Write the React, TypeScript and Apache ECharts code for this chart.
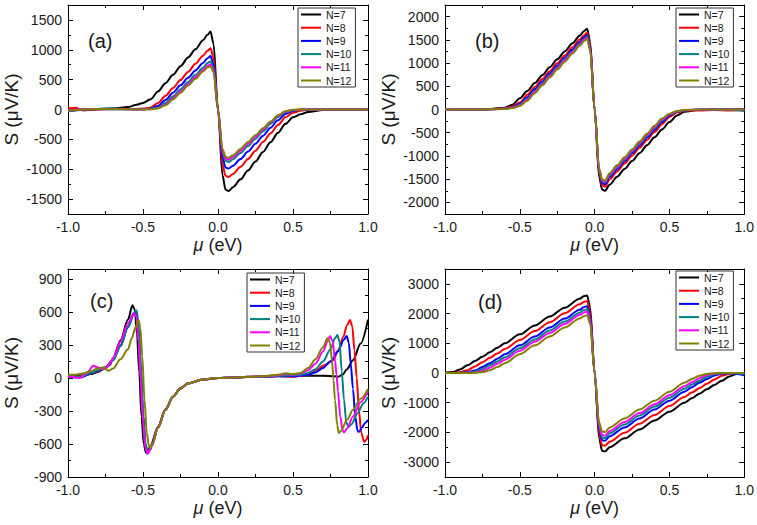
import React, { useEffect, useRef } from 'react';
import * as echarts from 'echarts';

const FONT = '"Liberation Sans", Arial, sans-serif';
const NAMES = ['N=7', 'N=8', 'N=9', 'N=10', 'N=11', 'N=12'];
const COLORS = ['#000000', '#ff0000', '#0000ff', '#008080', '#ff00ff', '#808000'];

// x grid shared by panels (a) and (b)
const xAB = [-1.0, -0.95, -0.9, -0.8, -0.7, -0.6, -0.55, -0.5, -0.45, -0.4, -0.35, -0.3, -0.25, -0.2, -0.15, -0.1, -0.07, -0.05, -0.03, 0, 0.03, 0.05, 0.07, 0.1, 0.15, 0.2, 0.25, 0.3, 0.35, 0.4, 0.45, 0.5, 0.55, 0.6, 0.7, 0.8, 0.9, 1.0];

// panel (a)
const a7 = [0, 5, -5, 10, 15, 40, 75, 110, 170, 300, 440, 580, 725, 870, 1010, 1160, 1250, 1305, 1100, 0, -1100, -1340, -1365, -1300, -1170, -1020, -870, -710, -550, -390, -240, -130, -80, -40, -8, 0, 0, 0];
const a8 = [20, 30, -15, 0, 10, 10, 10, 15, 30, 110, 230, 360, 495, 630, 765, 900, 985, 1025, 870, 0, -920, -1110, -1130, -1080, -960, -830, -690, -545, -400, -260, -130, -55, -20, -5, 0, 0, 0, 0];
const a9 = [-30, -15, 0, 5, 5, 5, 5, 5, 15, 60, 160, 280, 405, 530, 655, 780, 860, 895, 760, 0, -800, -970, -990, -940, -830, -705, -575, -440, -305, -180, -75, -25, -5, 0, 0, 0, 0, 0];
const a10 = [-20, -10, 0, 10, 20, 5, 5, 5, 10, 35, 110, 220, 340, 460, 580, 700, 780, 805, 690, 0, -720, -860, -880, -835, -730, -610, -490, -365, -240, -125, -45, -12, -2, 0, 0, 0, 0, 0];
const a11 = [-25, 0, 5, 10, 10, 5, 0, 0, 5, 25, 85, 190, 305, 425, 545, 660, 735, 755, 650, 0, -690, -820, -840, -795, -690, -575, -455, -335, -215, -105, -35, -8, 0, 0, 0, 0, 0, 0];
const a12 = [-20, -10, 0, 10, 5, 5, 0, 0, 5, 20, 70, 170, 280, 400, 515, 635, 705, 725, 625, 0, -660, -790, -810, -765, -660, -545, -430, -315, -200, -95, -30, -5, 0, 0, 0, 0, 0, 0];

// panel (b)
const b7 = [0, 0, 0, 0, 10, 40, 100, 240, 400, 570, 740, 910, 1080, 1250, 1420, 1590, 1690, 1740, 1450, 0, -1450, -1720, -1750, -1620, -1450, -1280, -1110, -940, -770, -600, -430, -270, -130, -50, -5, 0, 0, 0];
const b8 = [0, 0, 0, 0, 5, 25, 65, 150, 315, 485, 655, 825, 995, 1165, 1335, 1505, 1600, 1650, 1380, 0, -1380, -1630, -1660, -1505, -1335, -1165, -995, -825, -655, -485, -315, -160, -65, -25, -20, -10, -20, 0];
const b9 = [0, 0, 0, 0, 5, 20, 45, 120, 264, 434, 604, 774, 944, 1114, 1284, 1454, 1555, 1600, 1340, 0, -1340, -1580, -1610, -1454, -1284, -1114, -944, -774, -604, -434, -270, -130, -50, -20, -5, 0, 0, 0];
const b10 = [0, 0, 0, 0, 5, 15, 40, 95, 230, 400, 570, 740, 910, 1080, 1250, 1420, 1520, 1565, 1310, 0, -1310, -1545, -1570, -1420, -1250, -1080, -910, -740, -570, -400, -235, -110, -45, -15, -5, 0, -10, -30];
const b11 = [0, 0, 0, 0, 5, 15, 35, 85, 210, 376, 546, 716, 886, 1056, 1226, 1396, 1500, 1545, 1290, 0, -1290, -1525, -1550, -1396, -1226, -1056, -886, -716, -546, -376, -215, -100, -40, -12, 0, 0, 0, 0];
const b12 = [0, 0, 0, 0, 5, 10, 30, 75, 190, 350, 520, 690, 860, 1030, 1200, 1370, 1475, 1525, 1270, 0, -1270, -1505, -1530, -1370, -1200, -1030, -860, -690, -520, -350, -195, -90, -35, -10, 0, 0, 0, 0];

// panel (c): [mu, S] pairs per series
const c7 = [[-1, 25], [-0.95, 20], [-0.9, 25], [-0.85, 35], [-0.8, 55], [-0.75, 90], [-0.72, 120], [-0.7, 180], [-0.65, 340], [-0.6, 530], [-0.57, 660], [-0.555, 620], [-0.54, 400], [-0.525, 50], [-0.51, -350], [-0.495, -600], [-0.48, -680], [-0.465, -665], [-0.45, -615], [-0.4, -445], [-0.35, -285], [-0.3, -170], [-0.25, -92], [-0.2, -48], [-0.1, -14], [0, 0], [0.1, 5], [0.2, 10], [0.3, 14], [0.4, 18], [0.5, 18], [0.6, 20], [0.7, 20], [0.78, 16], [0.8, 10], [0.83, 30], [0.86, 80], [0.9, 160], [0.95, 310], [1.0, 530]];
const c8 = [[-1, 20], [-0.95, 10], [-0.9, 20], [-0.85, 40], [-0.8, 60], [-0.75, 95], [-0.7, 165], [-0.65, 300], [-0.6, 470], [-0.56, 590], [-0.545, 600], [-0.53, 440], [-0.515, 60], [-0.5, -340], [-0.485, -600], [-0.47, -670], [-0.455, -655], [-0.44, -610], [-0.4, -445], [-0.35, -285], [-0.3, -170], [-0.25, -92], [-0.2, -48], [-0.1, -14], [0, 0], [0.1, 5], [0.2, 8], [0.3, 12], [0.4, 15], [0.5, 10], [0.6, 30], [0.66, 73], [0.7, 110], [0.77, 164], [0.8, 250], [0.836, 375], [0.86, 480], [0.88, 527], [0.895, 470], [0.91, 250], [0.925, 0], [0.94, -300], [0.955, -500], [0.975, -580], [0.99, -560], [1.0, -520]];
const c9 = [[-1, 20], [-0.95, 5], [-0.9, 10], [-0.85, 40], [-0.8, 65], [-0.75, 95], [-0.7, 160], [-0.65, 290], [-0.6, 460], [-0.56, 585], [-0.545, 605], [-0.53, 450], [-0.515, 80], [-0.5, -330], [-0.485, -600], [-0.47, -675], [-0.455, -660], [-0.44, -610], [-0.4, -450], [-0.35, -290], [-0.3, -170], [-0.25, -95], [-0.2, -50], [-0.1, -15], [0, 0], [0.1, 5], [0.2, 8], [0.3, 10], [0.4, 15], [0.5, 15], [0.6, 30], [0.65, 50], [0.7, 90], [0.75, 150], [0.8, 240], [0.84, 350], [0.858, 382], [0.872, 320], [0.885, 130], [0.9, -100], [0.915, -350], [0.93, -480], [0.94, -490], [0.96, -450], [0.98, -410], [1.0, -380]];
const c10 = [[-1, 25], [-0.95, 10], [-0.9, 15], [-0.85, 45], [-0.8, 70], [-0.75, 95], [-0.7, 160], [-0.65, 290], [-0.6, 465], [-0.56, 595], [-0.542, 612], [-0.527, 450], [-0.512, 60], [-0.497, -350], [-0.482, -610], [-0.467, -670], [-0.452, -650], [-0.44, -605], [-0.4, -450], [-0.35, -290], [-0.3, -170], [-0.25, -95], [-0.2, -50], [-0.1, -15], [0, 0], [0.1, 5], [0.2, 8], [0.3, 12], [0.4, 20], [0.5, 25], [0.55, 30], [0.6, 45], [0.65, 80], [0.7, 150], [0.75, 260], [0.78, 360], [0.796, 390], [0.81, 330], [0.825, 60], [0.84, -200], [0.855, -400], [0.87, -445], [0.89, -420], [0.93, -320], [0.97, -230], [1.0, -170]];
const c11 = [[-1, 15], [-0.95, 5], [-0.92, 0], [-0.88, 40], [-0.83, 110], [-0.8, 95], [-0.76, 80], [-0.72, 130], [-0.7, 180], [-0.65, 330], [-0.6, 500], [-0.56, 588], [-0.545, 560], [-0.53, 330], [-0.515, -30], [-0.5, -400], [-0.485, -630], [-0.47, -690], [-0.455, -660], [-0.44, -605], [-0.4, -450], [-0.35, -290], [-0.3, -170], [-0.25, -95], [-0.2, -50], [-0.1, -15], [0, 0], [0.1, 5], [0.2, 10], [0.3, 15], [0.4, 25], [0.45, 35], [0.5, 30], [0.55, 40], [0.6, 70], [0.65, 130], [0.7, 240], [0.73, 330], [0.747, 382], [0.765, 330], [0.78, 160], [0.79, 30], [0.8, -120], [0.815, -350], [0.83, -470], [0.84, -495], [0.86, -460], [0.9, -350], [0.95, -220], [1.0, -120]];
const c12 = [[-1, 30], [-0.95, 30], [-0.9, 40], [-0.85, 60], [-0.8, 85], [-0.765, 97], [-0.73, 65], [-0.7, 85], [-0.65, 170], [-0.6, 260], [-0.575, 360], [-0.55, 460], [-0.53, 527], [-0.518, 460], [-0.505, 200], [-0.49, -200], [-0.475, -500], [-0.46, -620], [-0.45, -635], [-0.435, -590], [-0.4, -455], [-0.35, -290], [-0.3, -170], [-0.25, -95], [-0.2, -50], [-0.1, -15], [0, 0], [0.1, 5], [0.2, 10], [0.3, 15], [0.4, 30], [0.45, 42], [0.5, 35], [0.55, 45], [0.6, 90], [0.65, 170], [0.7, 280], [0.73, 360], [0.745, 330], [0.76, 160], [0.77, -20], [0.78, -200], [0.795, -430], [0.805, -500], [0.82, -480], [0.86, -380], [0.9, -290], [0.95, -190], [1.0, -100]];

// panel (d)
const xD = [-1, -0.95, -0.9, -0.85, -0.8, -0.75, -0.7, -0.65, -0.6, -0.5, -0.4, -0.3, -0.2, -0.1, -0.07, -0.05, -0.03, 0, 0.03, 0.05, 0.07, 0.1, 0.2, 0.3, 0.4, 0.5, 0.6, 0.65, 0.7, 0.75, 0.8, 0.85, 0.9, 0.95, 1.0];
const d7 = [5, 30, 120, 260, 400, 550, 700, 850, 1000, 1300, 1600, 1900, 2200, 2500, 2590, 2610, 2200, 0, -2200, -2620, -2640, -2500, -2200, -1900, -1600, -1300, -1000, -850, -700, -550, -400, -260, -120, -30, -5];
const d8 = [0, 5, 25, 90, 220, 360, 510, 660, 810, 1110, 1410, 1710, 2010, 2310, 2400, 2420, 2050, 0, -2050, -2430, -2450, -2310, -2010, -1710, -1410, -1110, -810, -660, -510, -360, -220, -90, -25, -5, 0];
const d9 = [0, 0, 5, 25, 80, 200, 330, 480, 630, 930, 1230, 1530, 1830, 2130, 2220, 2245, 1900, 0, -1900, -2260, -2280, -2130, -1830, -1530, -1230, -930, -630, -480, -330, -200, -80, -25, -5, -30, -80];
const d10 = [0, 0, 0, 10, 45, 130, 260, 390, 530, 830, 1130, 1430, 1730, 2030, 2120, 2145, 1820, 0, -1820, -2170, -2190, -2030, -1730, -1430, -1130, -830, -530, -390, -260, -130, -45, -10, 0, -10, -40];
const d11 = [0, 0, 0, 5, 20, 70, 180, 310, 450, 750, 1050, 1350, 1650, 1950, 2040, 2065, 1750, 0, -1760, -2090, -2110, -1950, -1650, -1350, -1050, -750, -450, -310, -180, -70, -20, -5, 0, 0, 0];
const d12 = [0, 0, 0, 0, 5, 30, 90, 200, 330, 630, 930, 1230, 1530, 1830, 1920, 1945, 1650, 0, -1660, -1970, -1990, -1830, -1530, -1230, -930, -630, -330, -200, -90, -30, -5, 0, 0, 0, 0];

// y axis per panel: [min, max, major step, minor step]
const yRanges = [[-1750, 1750, 500, 250], [-2250, 2250, 500, 250], [-900, 990, 300, 150], [-3500, 3500, 1000, 500]];
const panelLabels = ['(a)', '(b)', '(c)', '(d)'];

const zip = (xs: number[], ys: number[]) => xs.map((x, i) => [x, ys[i]]);
const panelData = [
  [a7, a8, a9, a10, a11, a12].map((ys) => zip(xAB, ys)),
  [b7, b8, b9, b10, b11, b12].map((ys) => zip(xAB, ys)),
  [c7, c8, c9, c10, c11, c12],
  [d7, d8, d9, d10, d11, d12].map((ys) => zip(xD, ys)),
];

const GRIDS = [
  { left: 68, top: 5, width: 300, height: 209 },
  { left: 445, top: 5, width: 300, height: 209 },
  { left: 68, top: 269, width: 300, height: 208 },
  { left: 445, top: 269, width: 300, height: 208 },
];
const LEGENDS = [
  { left: 298, top: 8 },
  { left: 676, top: 8 },
  { left: 247, top: 273 },
  { left: 676, top: 271 },
];
const LABEL_POS = [
  { left: 88, top: 31 },
  { left: 475, top: 31 },
  { left: 90, top: 291 },
  { left: 478, top: 292 },
];

const lineCol = '#000';
const txtCol = '#1a1a1a';

function buildOption() {
  const xAxis: any[] = [];
  const yAxis: any[] = [];
  const series: any[] = [];
  const legend: any[] = [];
  const graphic: any[] = [];
  GRIDS.forEach((g, gi) => {
    const [ymin, ymax, ymaj, ymin2] = yRanges[gi];
    const base = {
      gridIndex: gi,
      type: 'value',
      splitLine: { show: false },
      minorSplitLine: { show: false },
    };
    const line = { show: true, onZero: false, lineStyle: { color: lineCol, width: 1 } };
    const majTick = { show: true, inside: true, length: 5, lineStyle: { color: lineCol, width: 1 } };
    const minTick = { show: true, inside: true, length: 3, lineStyle: { color: lineCol, width: 1 } };
    const xCommon = {
      ...base,
      min: -1,
      max: 1,
      interval: 0.5,
      axisLine: line,
      axisTick: majTick,
      minorTick: { show: true, splitNumber: 2, length: 3, lineStyle: { color: lineCol, width: 1 } },
    };
    xAxis.push({
      ...xCommon,
      position: 'bottom',
      axisLabel: { fontSize: 14, color: txtCol, fontFamily: FONT, margin: 6, formatter: (v: number) => v.toFixed(1) },
      name: '{i|μ} (eV)',
      nameLocation: 'middle',
      nameGap: 22,
      nameTextStyle: {
        fontSize: 18, color: txtCol, fontFamily: FONT,
        rich: { i: { fontStyle: 'italic', fontSize: 18, fontFamily: FONT, color: txtCol } },
      },
    });
    xAxis.push({ ...xCommon, position: 'top', axisLabel: { show: false } });

    const yMajor = {
      ...base,
      min: ymin,
      max: ymax,
      minInterval: ymaj,
      maxInterval: ymaj,
      splitNumber: Math.round((ymax - ymin) / ymaj),
      axisLine: line,
      axisTick: majTick,
      minorTick: { show: false },
    };
    const yMinor = {
      ...base,
      min: ymin,
      max: ymax,
      interval: ymin2,
      axisLine: { show: false, onZero: false },
      axisTick: minTick,
      axisLabel: { show: false },
      minorTick: { show: false },
    };
    yAxis.push({
      ...yMajor,
      position: 'left',
      axisLabel: {
        fontSize: 14, color: txtCol, fontFamily: FONT, margin: 6,
        formatter: (v: number) => (Math.abs(v % ymaj) < 1e-6 ? String(v) : ''),
      },
      name: 'S (μV/K)',
      nameLocation: 'middle',
      nameRotate: 90,
      nameGap: 47,
      nameTextStyle: { fontSize: 19, color: txtCol, fontFamily: FONT },
    });
    yAxis.push({ ...yMinor, position: 'left' });
    yAxis.push({ ...yMajor, position: 'right', axisLabel: { show: false } });
    yAxis.push({ ...yMinor, position: 'right' });

    panelData[gi].forEach((data, si) => {
      series.push({
        type: 'line',
        name: NAMES[si],
        xAxisIndex: gi * 2,
        yAxisIndex: gi * 4,
        data,
        symbol: 'none',
        showSymbol: false,
        smooth: 0.3,
        smoothMonotone: 'x',
        lineStyle: { width: 2, color: COLORS[si] },
        itemStyle: { color: COLORS[si] },
        emphasis: { disabled: true },
      });
    });
    legend.push({
      orient: 'vertical',
      left: LEGENDS[gi].left,
      top: LEGENDS[gi].top,
      data: NAMES,
      icon: 'rect',
      itemWidth: 20,
      itemHeight: 2,
      itemGap: 2.2,
      itemTextGap: 4,
      padding: [1, 4, 1, 3],
      borderColor: '#333',
      borderWidth: 1,
      borderRadius: 0,
      selectedMode: false,
      textStyle: { fontSize: 10.5, color: txtCol, fontFamily: FONT, lineHeight: 11 },
    });
    graphic.push({
      type: 'text',
      left: LABEL_POS[gi].left,
      top: LABEL_POS[gi].top,
      style: { text: panelLabels[gi], fontSize: 20, fontFamily: FONT, fill: txtCol },
    });
  });
  return {
    animation: false,
    backgroundColor: '#ffffff',
    grid: GRIDS.map((g) => ({ ...g, containLabel: false })),
    xAxis,
    yAxis,
    series,
    legend,
    graphic,
  };
}

export default function App() {
  const ref = useRef<HTMLDivElement>(null);
  useEffect(() => {
    if (!ref.current) return;
    const chart = echarts.init(ref.current, undefined, { renderer: 'svg' });
    chart.setOption(buildOption() as any);
    return () => chart.dispose();
  }, []);
  return (
    <div
      ref={ref}
      style={{ position: 'fixed', left: 0, top: 0, width: 757, height: 525, background: '#fff' }}
    />
  );
}
